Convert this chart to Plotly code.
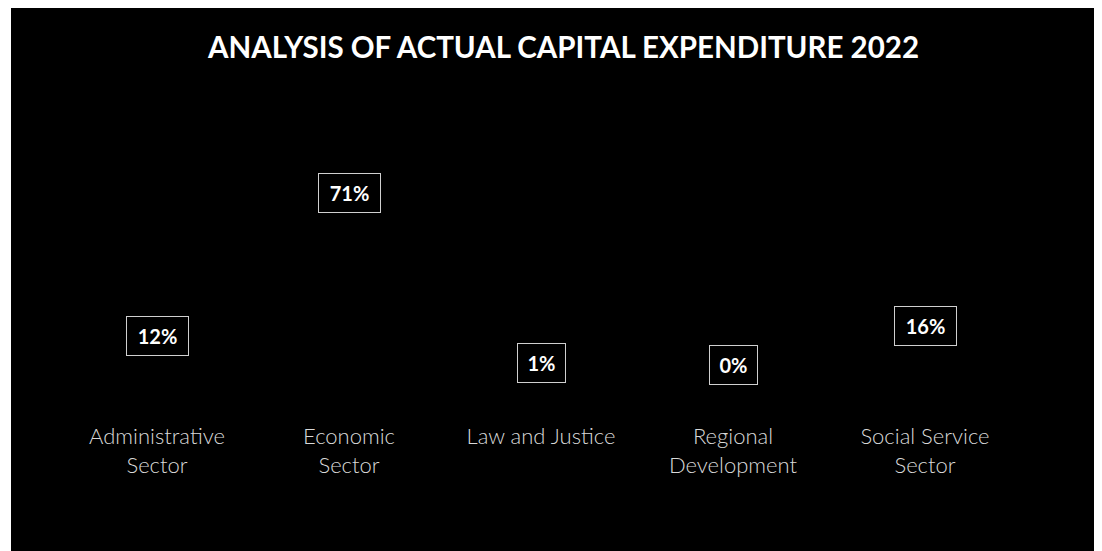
import plotly.graph_objects as go

sectors = ["Administrative Sector", "Economic Sector", "Law and Justice",
           "Regional Development", "Social Service Sector"]
tick_text = ["Administrative<br>Sector", "Economic<br>Sector", "Law and Justice",
             "Regional<br>Development", "Social Service<br>Sector"]
share_pct = [12, 71, 1, 0, 16]

# the page puts the figure 8px in from the top-left corner
W, H = 1102, 551
L, R, T, B = 53, 89, 92, 172
PW, PH = W - L - R, H - T - B


def px_x(x):
    return (x - L) / PW


def px_y(y):
    return 1 - (y - T) / PH


fig = go.Figure()
fig.add_trace(go.Bar(
    x=sectors,
    y=share_pct,
    marker=dict(color="black", line=dict(width=0)),
    width=0.5,
    hoverinfo="skip",
    showlegend=False,
))

# boxed data labels above each (black) bar
for s, v in zip(sectors, share_pct):
    label = f"{v}%"
    fig.add_annotation(
        x=s, y=v, xref="x", yref="y",
        text=f"<b>{label}</b>",
        showarrow=False,
        yanchor="bottom", yshift=2,
        width=14 * len(label) + 3, height=22,
        font=dict(family="Lato, Open Sans, sans-serif", size=20, color="white"),
        bordercolor="#d0d0d0", borderwidth=1, borderpad=8,
        bgcolor="black",
    )

# black panel with a thin white strip on the left
fig.add_shape(type="rect", xref="paper", yref="paper", layer="below",
              x0=px_x(3), x1=px_x(W + 5), y0=px_y(H + 5), y1=px_y(-5),
              fillcolor="black", line=dict(width=0))

fig.update_layout(
    width=W, height=H,
    margin=dict(l=L, r=R, t=T, b=B),
    paper_bgcolor="white",
    plot_bgcolor="black",
    title=dict(
        text="<b>ANALYSIS OF ACTUAL CAPITAL EXPENDITURE 2022</b>",
        x=555.5 / W, xanchor="center",
        y=1 - 40 / H, yanchor="middle",
        font=dict(family="Lato, Open Sans, sans-serif", size=29.5, color="white"),
    ),
    bargap=0.5,
)
fig.update_xaxes(
    tickmode="array", tickvals=sectors, ticktext=tick_text,
    showgrid=False, showline=False, zeroline=False, ticks="",
    tickfont=dict(family="Lato, Open Sans, sans-serif", size=22,
                  color="#d9d9d9", weight=300),
    ticklabelstandoff=34,
)
fig.update_yaxes(
    range=[0, PH / 2.42], visible=False, showgrid=False, zeroline=False,
)

fig.write_html("out.html")
